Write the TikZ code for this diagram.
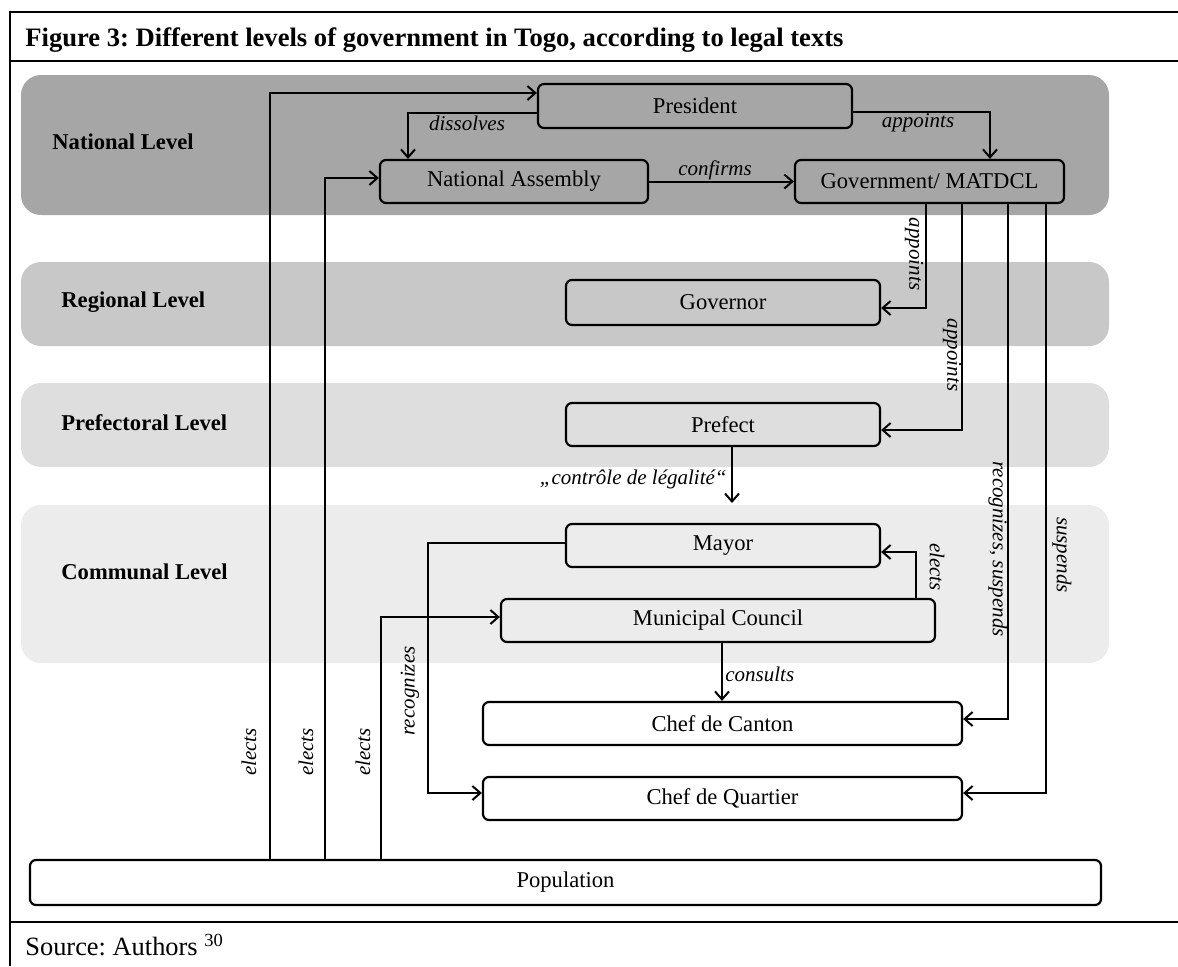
\documentclass[tikz,border=0pt]{standalone}
\usepackage{fontspec}
\setmainfont{Liberation Serif}
\usetikzlibrary{arrows.meta}
\definecolor{bandA}{HTML}{A6A6A6}
\definecolor{bandB}{HTML}{C8C8C8}
\definecolor{bandC}{HTML}{DEDEDE}
\definecolor{bandD}{HTML}{ECECEC}
\frenchspacing
\begin{document}
\begin{tikzpicture}[x=0.5pt,y=-0.5pt,
  box/.style={draw, line width=1.1pt, rounded corners=3pt, inner sep=0pt,
    minimum height=22pt, font=\fontsize{11.3}{13}\selectfont},
  arr/.style={line width=1pt, -{Straight Barb[length=4pt,width=7pt,line width=1pt]}},
  lbl/.style={font=\fontsize{10.5}{12}\selectfont\itshape, inner sep=0pt},
  lvl/.style={font=\fontsize{11.3}{13}\selectfont\bfseries, anchor=west, inner sep=0pt},
  band/.style={rounded corners=10pt},
  frame/.style={line width=1.3pt}]
\useasboundingbox (0,0) rectangle (1178,966);
% bands
\fill[band, fill=bandA] (21,75) rectangle (1109,215);
\fill[band, fill=bandB] (21,262) rectangle (1109,346);
\fill[band, fill=bandC] (21,383) rectangle (1109,467);
\fill[band, fill=bandD] (21,505) rectangle (1109,663);
% frame
\draw[frame] (1178,12) -- (10,12) -- (10,966);
\draw[frame] (10,61) -- (1178,61);
\draw[frame] (10,922) -- (1178,922);
% title and source
\node[anchor=base west, inner sep=0pt, font=\fontsize{13.3}{15}\selectfont\bfseries] (title) at (25,46)
  {Figure 3: Different levels of government in Togo, according to legal texts};
\node[anchor=base west, inner sep=0pt, font=\fontsize{13.2}{15}\selectfont] (src) at (25,955)
  {Source: Authors \textsuperscript{30}};
% level labels
\node[lvl] (lnat) at (52,142) {National Level};
\node[lvl] (lreg) at (61,302) {Regional Level};
\node[lvl] (lpre) at (61,423) {Prefectoral Level};
\node[lvl] (lcom) at (61,572) {Communal Level};
% boxes
\node[box, minimum width=157pt] (pres) at (695,106) {President};
\node[box, minimum width=134pt, minimum height=21.5pt] (na) at (514,181.5) {National Assembly};
\node[box, minimum width=134.5pt, minimum height=21.5pt] (gov) at (929.5,181.5) {Government/ MATDCL};
\node[box, minimum width=157pt, minimum height=22.5pt] (gvr) at (723,302.5) {Governor};
\node[box, minimum width=157pt, minimum height=21.5pt] (pref) at (723,424.5) {Prefect};
\node[box, minimum width=157pt, minimum height=21.5pt] (mayor) at (723,545.5) {Mayor};
\node[box, minimum width=217pt, minimum height=21.5pt] (mc) at (718,620.5) {Municipal Council};
\node[box, minimum width=239.5pt, minimum height=21.5pt] (cc) at (722.5,723.5) {Chef de Canton};
\node[box, minimum width=239.5pt, minimum height=21.5pt] (cq) at (722.5,798.5) {Chef de Quartier};
\node[box, minimum width=535.5pt, minimum height=22.5pt] (pop) at (565.5,882.5) {Population};
% elects from population
\coordinate (e1) at (270,93);
\draw[arr] (e1 |- pop.north) -- (e1) -- (e1 -| pres.west);
\coordinate (e2) at (325,178);
\draw[arr] (e2 |- pop.north) -- (e2) -- (e2 -| na.west);
\coordinate (e3) at (381,617);
\draw[arr] (e3 |- pop.north) -- (e3) -- (e3 -| mc.west);
\node[lbl, rotate=90] (le1) at (249,752) {elects};
\node[lbl, rotate=90] (le2) at (306,752) {elects};
\node[lbl, rotate=90] (le3) at (363,752) {elects};
% dissolves
\coordinate (d1) at (408,113);
\draw[arr] (d1 -| pres.west) -- (d1) -- (d1 |- na.north);
\node[lbl] (ldis) at (467,123) {dissolves};
% appoints (government)
\coordinate (a1) at (990,112);
\draw[arr] (a1 -| pres.east) -- (a1) -- (a1 |- gov.north);
\node[lbl] (lapp1) at (918,123) {appoints};
% confirms
\draw[arr] (na.east) -- (gov.west);
\node[lbl] (lconf) at (715,170) {confirms};
% appoints governor
\coordinate (a2) at (926,308);
\draw[arr] (a2 |- gov.south) -- (a2) -- (a2 -| gvr.east);
\node[lbl, rotate=-90] (lapp2) at (914,254) {appoints};
% appoints prefect
\coordinate (a3) at (962,430);
\draw[arr] (a3 |- gov.south) -- (a3) -- (a3 -| pref.east);
\node[lbl, rotate=-90] (lapp3) at (952,355) {appoints};
% recognizes, suspends
\coordinate (s1) at (1008,719);
\draw[arr] (s1 |- gov.south) -- (s1) -- (s1 -| cc.east);
\node[lbl, rotate=-90] (lrs) at (998,549) {recognizes, suspends};
% suspends
\coordinate (s2) at (1046,793);
\draw[arr] (s2 |- gov.south) -- (s2) -- (s2 -| cq.east);
\node[lbl, rotate=-90] (lsus) at (1062,555) {suspends};
% controle de legalite
\coordinate (c1) at (732,503);
\draw[arr] (c1 |- pref.south) -- (c1);
\node[lbl, anchor=east] (lctl) at (727,479) {„contrôle de légalité“};
% recognizes
\coordinate (r1) at (428,543);
\coordinate (r2) at (428,793);
\draw[arr] (r1 -| mayor.west) -- (r1) -- (r2) -- (r2 -| cq.west);
\node[lbl, rotate=90] (lrec) at (410,691) {recognizes};
% elects mayor
\coordinate (m1) at (916,552);
\draw[arr] (m1 |- mc.north) -- (m1) -- (m1 -| mayor.east);
\node[lbl, rotate=-90] (lem) at (937,567) {elects};
% consults
\coordinate (k1) at (722,674);
\draw[arr] (k1 |- mc.south) -- (k1 |- cc.north);
\node[lbl, anchor=west] (lcons) at (725,674) {consults};
\end{tikzpicture}
\end{document}
